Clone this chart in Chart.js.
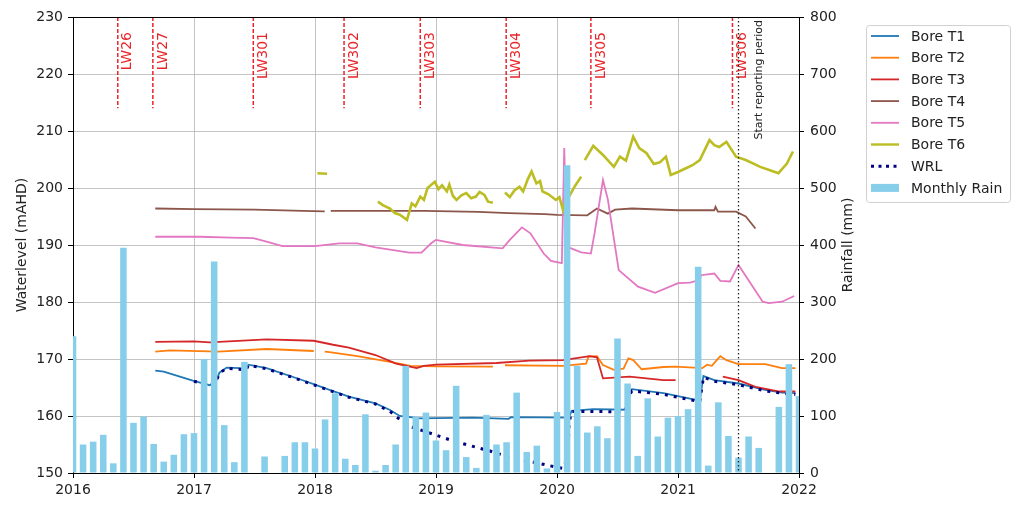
<!DOCTYPE html>
<html>
<head>
<meta charset="utf-8">
<script src="https://cdn.jsdelivr.net/npm/chart.js@4.4.1/dist/chart.umd.min.js"></script>
<style>
html, body { margin: 0; padding: 0; background: #fff; }
#wrap { width: 1017px; height: 506px; }
</style>
</head>
<body>
<div id="wrap"><canvas id="waterChart" width="1017" height="506"></canvas></div>
<script>
// bore water levels, [decimal year, mAHD]; null level = gap in record
var boreT1 = [[2016.68,167.95],[2016.75,167.8],[2016.99,166.2],[2017.13,165.4],[2017.18,166.0],[2017.21,167.6],[2017.27,168.5],[2017.38,168.4],[2017.43,168.2],[2017.45,169.0],[2017.6,168.4],[2017.88,166.4],[2018.0,165.5],[2018.12,164.6],[2018.28,163.4],[2018.5,162.2],[2018.62,161.05],[2018.7,160.0],[2018.87,159.6],[2019.3,159.7],[2019.6,159.5],[2019.62,159.8],[2020.1,159.7],[2020.12,160.9],[2020.3,161.2],[2020.58,161.1],[2020.6,164.0],[2020.62,164.7],[2020.88,164.0],[2021.18,162.7],[2021.21,167.0],[2021.3,166.3],[2021.5,165.7],[2021.72,164.6],[2021.86,164.1],[2021.97,164.0]];
var boreT2 = [[2016.68,171.3],[2016.8,171.5],[2017.2,171.3],[2017.6,171.75],[2017.99,171.4],[2018.03,null],[2018.08,171.3],[2018.12,171.2],[2018.35,170.5],[2018.62,169.5],[2018.79,168.8],[2019.0,168.7],[2019.47,168.65],[2019.52,null],[2019.57,168.9],[2020.05,168.8],[2020.24,169.2],[2020.26,170.4],[2020.33,170.5],[2020.38,168.95],[2020.47,168.1],[2020.55,168.3],[2020.59,170.1],[2020.63,169.8],[2020.7,168.2],[2020.88,168.6],[2020.98,168.65],[2021.2,168.4],[2021.24,169.0],[2021.28,168.8],[2021.32,169.8],[2021.35,170.5],[2021.4,169.8],[2021.5,169.1],[2021.72,169.1],[2021.86,168.4],[2021.97,168.4]];
var boreT3 = [[2016.68,173.0],[2017.0,173.1],[2017.13,172.9],[2017.6,173.45],[2017.99,173.2],[2018.15,172.5],[2018.28,172.0],[2018.5,170.7],[2018.67,169.2],[2018.84,168.4],[2018.9,168.8],[2019.0,169.0],[2019.5,169.3],[2019.77,169.7],[2020.05,169.8],[2020.27,170.5],[2020.33,170.3],[2020.38,166.6],[2020.6,166.9],[2020.88,166.3],[2020.98,166.3],[2021.2,null],[2021.37,166.9],[2021.5,166.3],[2021.64,165.1],[2021.83,164.3],[2021.97,164.3]];
var boreT4 = [[2016.68,196.4],[2017.0,196.3],[2017.5,196.2],[2017.9,196.0],[2018.08,195.9],[2018.1,null],[2018.13,196.0],[2018.5,196.0],[2018.9,196.0],[2019.35,195.8],[2019.6,195.6],[2019.9,195.4],[2020.0,195.3],[2020.25,195.2],[2020.33,196.4],[2020.38,195.9],[2020.42,195.5],[2020.48,196.2],[2020.62,196.4],[2021.0,196.1],[2021.3,196.1],[2021.31,196.7],[2021.33,195.85],[2021.48,195.85],[2021.56,195.0],[2021.64,192.9]];
var boreT5 = [[2016.68,191.45],[2017.05,191.45],[2017.3,191.3],[2017.49,191.2],[2017.6,190.6],[2017.73,189.8],[2018.0,189.8],[2018.2,190.3],[2018.35,190.3],[2018.5,189.6],[2018.78,188.65],[2018.88,188.65],[2018.96,190.3],[2019.0,190.9],[2019.22,190.0],[2019.55,189.4],[2019.61,190.9],[2019.71,193.1],[2019.78,192.05],[2019.89,188.5],[2019.95,187.2],[2020.04,186.8],[2020.06,207.0],[2020.08,189.7],[2020.2,188.7],[2020.28,188.5],[2020.31,192.0],[2020.38,201.4],[2020.42,198.0],[2020.51,185.6],[2020.67,182.7],[2020.81,181.6],[2021.0,183.3],[2021.1,183.4],[2021.18,183.9],[2021.19,184.7],[2021.3,185.0],[2021.35,183.7],[2021.43,183.6],[2021.5,186.5],[2021.7,180.05],[2021.75,179.8],[2021.86,180.05],[2021.96,181.05]];
var boreT6 = [[2018.02,202.6],[2018.1,202.5],[2018.3,null],[2018.52,197.6],[2018.56,197.0],[2018.62,196.4],[2018.66,195.6],[2018.7,195.3],[2018.76,194.4],[2018.8,197.3],[2018.83,196.8],[2018.87,198.5],[2018.9,197.9],[2018.93,200.0],[2018.99,201.1],[2019.02,199.8],[2019.05,200.5],[2019.09,199.4],[2019.11,200.6],[2019.14,198.6],[2019.17,197.9],[2019.21,198.7],[2019.25,199.1],[2019.29,198.2],[2019.33,198.5],[2019.36,199.3],[2019.4,198.8],[2019.43,197.6],[2019.47,197.4],[2019.52,null],[2019.57,199.2],[2019.61,198.4],[2019.65,199.6],[2019.69,200.2],[2019.72,199.4],[2019.76,201.6],[2019.79,202.9],[2019.83,200.8],[2019.86,201.2],[2019.88,199.4],[2019.93,198.9],[2019.99,197.9],[2020.02,198.4],[2020.05,196.1],[2020.07,197.6],[2020.1,198.5],[2020.15,200.4],[2020.2,202.0],[2020.21,null],[2020.23,204.9],[2020.3,207.4],[2020.38,205.8],[2020.47,203.7],[2020.52,205.5],[2020.57,204.8],[2020.63,209.0],[2020.68,207.0],[2020.74,206.1],[2020.8,204.2],[2020.85,204.5],[2020.9,205.5],[2020.94,202.3],[2021.0,202.8],[2021.07,203.5],[2021.12,204.0],[2021.18,204.9],[2021.26,208.4],[2021.3,207.5],[2021.34,207.2],[2021.4,208.1],[2021.48,205.5],[2021.56,204.9],[2021.68,203.7],[2021.76,203.1],[2021.83,202.6],[2021.9,204.3],[2021.95,206.4]];
var wrl = [[2017.0,166.1],[2017.13,165.3],[2017.18,165.9],[2017.21,167.5],[2017.27,168.4],[2017.43,168.1],[2017.45,168.9],[2017.6,168.3],[2017.88,166.3],[2018.12,164.5],[2018.28,163.3],[2018.5,162.1],[2018.62,160.8],[2018.67,159.9],[2018.78,158.2],[2018.88,157.5],[2019.16,155.5],[2019.44,153.9],[2019.6,152.8],[2019.85,151.7],[2020.0,151.0],[2020.05,150.8],[2020.09,152.9],[2020.1,158.8],[2020.12,160.8],[2020.3,160.8],[2020.56,160.7],[2020.6,163.8],[2020.62,164.4],[2020.88,163.8],[2021.18,162.5],[2021.21,166.8],[2021.3,166.1],[2021.5,165.5],[2021.72,164.4],[2021.86,164.0],[2021.97,163.8]];

// monthly rain (mm), Jan 2016 .. Jan 2022
var rainStart = 2016;
var monthlyRain = [
  240, 50, 55, 67, 17, 395, 88, 99, 51, 20, 32, 68,
  70, 200, 371, 84, 19, 195, 0, 29, 0, 30, 54, 54,
  43, 94, 140, 25, 14, 103, 4, 14, 50, 188, 99, 106,
  57, 40, 153, 28, 9, 102, 50, 54, 141, 37, 48, 8,
  107, 540, 188, 71, 82, 61, 236, 157, 30, 131, 64, 97,
  100, 112, 362, 13, 124, 65, 27, 64, 44, 0, 116, 191,
  135
];

// longwall start markers
var lwYears = [2016.37, 2016.66, 2017.49, 2018.24, 2018.87, 2019.58, 2020.28, 2021.45];
var lwNames = ['LW26', 'LW27', 'LW301', 'LW302', 'LW303', 'LW304', 'LW305', 'LW306'];
var lwFrom = 230, lwTo = 214;
var reportStart = 2021.5;

var seriesNames = ['Bore T1', 'Bore T2', 'Bore T3', 'Bore T4', 'Bore T5', 'Bore T6', 'WRL', 'Monthly Rain'];
var seriesColors = ['#1f77b4', '#ff7f0e', '#d62728', '#8c564b', '#e377c2', '#bcbd22', '#000080', '#87ceeb'];

var FONT = 'DejaVu Sans';

function toPoints(list){
    return list.map(function(p){ return {x: p[0], y: p[1]}; });
}
var rainPoints = monthlyRain.map(function(v, i){ return {x: rainStart + i / 12, y: v}; });

function lineSet(idx, data, width, order){
    return {
        type: 'line',
        label: seriesNames[idx],
        data: toPoints(data),
        borderColor: seriesColors[idx],
        backgroundColor: seriesColors[idx],
        borderWidth: width,
        pointRadius: 0,
        tension: 0,
        spanGaps: false,
        yAxisID: 'y',
        order: order
    };
}

var wrlSet = lineSet(6, wrl, 3, 1);
wrlSet.borderDash = [3, 6];

var markers = {
    id: 'markers',
    afterDatasetsDraw: function(chart){
        var ctx = chart.ctx, xs = chart.scales.x, ys = chart.scales.y, area = chart.chartArea;
        ctx.save();
        // LW lines + labels
        ctx.strokeStyle = '#e8262a';
        ctx.lineWidth = 1.5;
        ctx.setLineDash([4, 2]);
        for (var i = 0; i < lwYears.length; i++) {
            var px = xs.getPixelForValue(lwYears[i]);
            ctx.beginPath();
            ctx.moveTo(px, ys.getPixelForValue(lwFrom));
            ctx.lineTo(px, ys.getPixelForValue(lwTo));
            ctx.stroke();
            ctx.save();
            ctx.translate(px + 10, area.top + 15);
            ctx.rotate(-Math.PI / 2);
            ctx.fillStyle = '#e8262a';
            ctx.font = '14px "' + FONT + '"';
            ctx.textAlign = 'right';
            ctx.textBaseline = 'middle';
            ctx.fillText(lwNames[i], 0, 0);
            ctx.restore();
        }
        // reporting period line
        var rx = xs.getPixelForValue(reportStart);
        ctx.strokeStyle = '#222';
        ctx.lineWidth = 1.3;
        ctx.setLineDash([1.5, 2.5]);
        ctx.beginPath();
        ctx.moveTo(rx, area.top);
        ctx.lineTo(rx, area.bottom);
        ctx.stroke();
        ctx.setLineDash([]);
        ctx.translate(rx + 21, area.top + 3);
        ctx.rotate(-Math.PI / 2);
        ctx.fillStyle = '#222';
        ctx.font = '11px "' + FONT + '"';
        ctx.textAlign = 'right';
        ctx.textBaseline = 'middle';
        ctx.fillText('Start reporting period', 0, 0);
        ctx.restore();
    },
    afterDraw: function(chart){
        var ctx = chart.ctx, area = chart.chartArea;
        ctx.save();
        // frame (top spine)
        ctx.strokeStyle = '#000';
        ctx.lineWidth = 1;
        ctx.beginPath();
        ctx.moveTo(area.left, area.top + 0.5);
        ctx.lineTo(area.right, area.top + 0.5);
        ctx.stroke();
        // right axis title, reads bottom to top like the left one
        ctx.save();
        ctx.translate(848, (area.top + area.bottom) / 2);
        ctx.rotate(-Math.PI / 2);
        ctx.fillStyle = '#222';
        ctx.font = '14px "' + FONT + '"';
        ctx.textAlign = 'center';
        ctx.textBaseline = 'middle';
        ctx.fillText('Rainfall (mm)', 0, 0);
        ctx.restore();
        // legend box
        var bx = 866, by = 25, bw = 144, bh = 177;
        ctx.fillStyle = 'rgba(255,255,255,0.85)';
        ctx.strokeStyle = '#d0d0d0';
        ctx.beginPath();
        ctx.roundRect(bx + 0.5, by + 0.5, bw, bh, 3);
        ctx.fill();
        ctx.stroke();
        ctx.font = '14px "' + FONT + '"';
        ctx.textBaseline = 'middle';
        ctx.textAlign = 'left';
        for (var i = 0; i < seriesNames.length; i++) {
            var cy = 36 + i * 21.7;
            ctx.strokeStyle = seriesColors[i];
            if (i === 7) {
                ctx.fillStyle = seriesColors[i];
                ctx.fillRect(871, cy - 4, 28, 8);
            } else {
                ctx.lineWidth = i === 6 ? 3 : (i === 5 ? 2.4 : 1.8);
                ctx.setLineDash(i === 6 ? [3, 4.5] : []);
                ctx.beginPath();
                ctx.moveTo(871, cy);
                ctx.lineTo(899, cy);
                ctx.stroke();
                ctx.setLineDash([]);
            }
            ctx.fillStyle = '#222';
            ctx.fillText(seriesNames[i], 911, cy + 1);
        }
        ctx.restore();
    }
};

var tickFont = {family: FONT, size: 14};
var gridColor = 'rgba(176,176,176,0.75)';

var ctx = document.getElementById('waterChart').getContext('2d');
var waterChart = new Chart(ctx, {
    type: 'line',
    data: {
        datasets: [
            {
                type: 'bar',
                label: 'Monthly Rain',
                data: rainPoints,
                backgroundColor: '#87ceeb',
                borderWidth: 0,
                barPercentage: 0.65,
                categoryPercentage: 1,
                clip: 0,
                yAxisID: 'y2',
                order: 0
            },
            wrlSet,
            lineSet(5, boreT6, 2.6, 2),
            lineSet(4, boreT5, 1.8, 3),
            lineSet(3, boreT4, 1.8, 4),
            lineSet(2, boreT3, 1.8, 5),
            lineSet(1, boreT2, 1.8, 6),
            lineSet(0, boreT1, 1.8, 7)
        ]
    },
    options: {
        responsive: false,
        animation: false,
        events: [],
        layout: {padding: {left: 0, right: 156, top: 17, bottom: 0}},
        plugins: {legend: {display: false}, tooltip: {enabled: false}},
        scales: {
            x: {
                type: 'linear',
                min: 2016,
                max: 2022,
                offset: false,
                afterFit: function(s){ s.height = 33; },
                ticks: {stepSize: 1, font: tickFont, color: '#222', padding: 4, maxRotation: 0,
                        callback: function(v){ return String(v); }},
                grid: {color: gridColor, tickColor: '#000', tickLength: 5, offset: false},
                border: {color: '#000', width: 1}
            },
            y: {
                position: 'left',
                min: 150,
                max: 230,
                afterFit: function(s){ s.width = 73; },
                ticks: {stepSize: 10, font: tickFont, color: '#222', padding: 5},
                grid: {color: gridColor, tickColor: '#000', tickLength: 5},
                border: {color: '#000', width: 1},
                title: {display: true, text: 'Waterlevel (mAHD)', font: tickFont, color: '#222', padding: {top: 14, bottom: 0}}
            },
            y2: {
                position: 'right',
                min: 0,
                max: 800,
                afterFit: function(s){ s.width = 62; },
                ticks: {stepSize: 100, font: tickFont, color: '#222', padding: 6},
                grid: {drawOnChartArea: false, tickColor: '#000', tickLength: 5},
                border: {color: '#000', width: 1}
            }
        }
    },
    plugins: [markers]
});
</script>
</body>
</html>
